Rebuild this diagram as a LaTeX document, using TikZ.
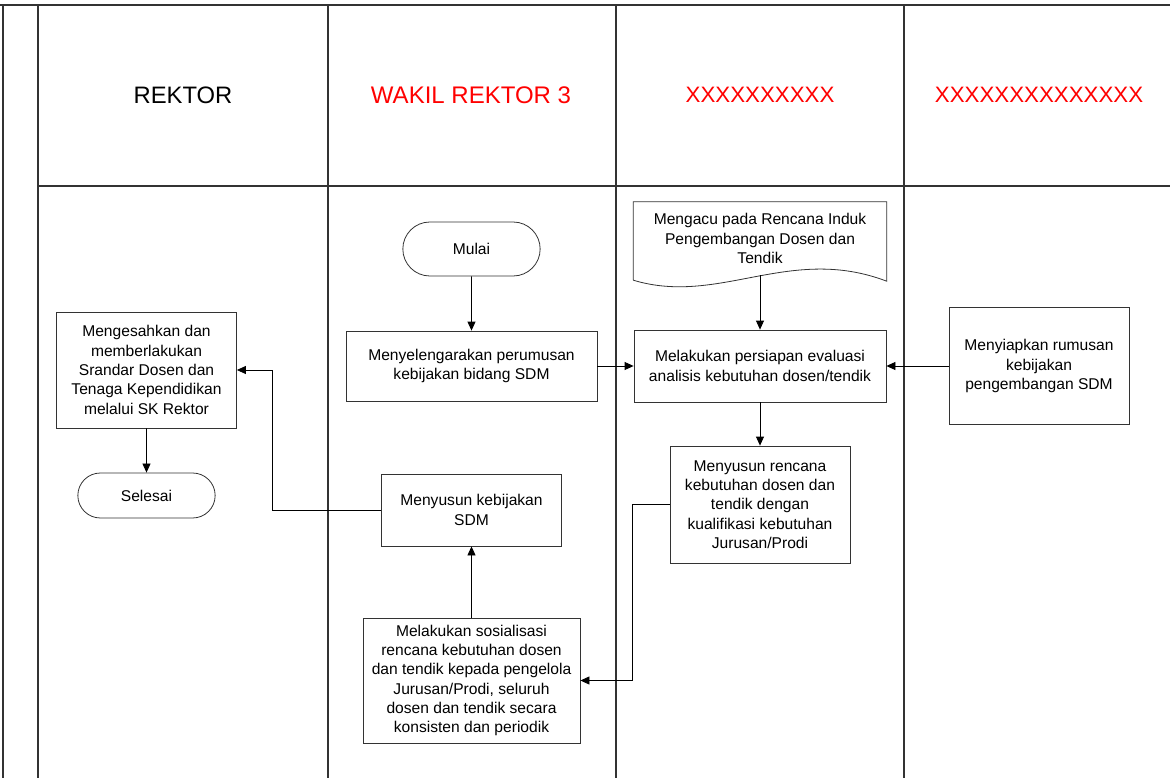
\documentclass[tikz,border=0pt]{standalone}
\usepackage{fontspec}
\setmainfont{Liberation Sans}
\usetikzlibrary{arrows.meta,shapes.misc}

\tikzstyle{proses}=[rectangle,
                        draw=black!80,
                        line width=0.8pt,
                        fill=white,
                        align=center,
                        inner sep=2pt,
                        font=\fontsize{15.6}{19.3}\selectfont]
\tikzstyle{terminal}=[rounded rectangle,
                        draw=black!80,
                        line width=0.8pt,
                        fill=white,
                        minimum width=144pt,
                        font=\fontsize{15.6}{19.3}\selectfont]
\tikzstyle{lajur}=[font=\fontsize{22.3}{27}\selectfont]
\tikzstyle{garis}=[line width=1.6pt, draw=black!80]

\begin{document}
\begin{tikzpicture}[x=1pt,y=-1pt,>={Triangle[length=9pt,width=8pt]}]
  \useasboundingbox (0,0) rectangle (1170,778);

  % swimlane frame
  \draw[garis] (0,5) -- (1170,5);
  \draw[garis] (38,186) -- (1170,186);
  \foreach \x in {3,38,328,616,904}
    \draw[garis] (\x,5) -- (\x,778);

  % lane headers
  \node (hrektor) [lajur,font=\fontsize{23.8}{27}\selectfont] at (183,95) {REKTOR};
  \node (hwarek) [lajur,text=red,font=\fontsize{24}{27}\selectfont] at (471,95) {WAKIL REKTOR 3};
  \node (hlajur3) [lajur,text=red] at (760,95) {XXXXXXXXXX};
  \node (hlajur4) [lajur,text=red] at (1039,95) {XXXXXXXXXXXXXX};

  % process steps
  \node (mulai) [terminal,minimum height=54pt] at (471.5,249) {Mulai};
  \node (selenggara) [proses,minimum width=251pt,minimum height=70pt] at (471.5,366)
        {Menyelengarakan perumusan\\kebijakan bidang SDM};
  \node (doc) [align=center,inner sep=0pt,minimum width=253pt,minimum height=73pt,
        font=\fontsize{15.6}{19.3}\selectfont] at (760,238.5)
        {Mengacu pada Rencana Induk\\Pengembangan Dosen dan\\Tendik};
  \draw[draw=black!80,line width=0.8pt] ([yshift=-5pt]doc.south west) -- (doc.north west)
        -- (doc.north east) -- ([yshift=-6pt]doc.south east)
        .. controls +(-97,-37) and +(86,26) .. ([yshift=-5pt]doc.south west);
  \node (persiapan) [proses,minimum width=252pt,minimum height=72pt] at (760,366)
        {Melakukan persiapan evaluasi\\analisis kebutuhan dosen/tendik};
  \node (siapkan) [proses,minimum width=180pt,minimum height=117pt] at (1039,366)
        {Menyiapkan rumusan\\kebijakan\\pengembangan SDM};
  \node (rencana) [proses,minimum width=180pt,minimum height=117pt] at (760,504.5)
        {Menyusun rencana\\kebutuhan dosen dan\\tendik dengan\\kualifikasi kebutuhan\\Jurusan/Prodi};
  \node (sosialisasi) [proses,minimum width=217pt,minimum height=125pt] at (471.5,680.5)
        {Melakukan sosialisasi\\rencana kebutuhan dosen\\dan tendik kepada pengelola\\Jurusan/Prodi, seluruh\\dosen dan tendik secara\\konsisten dan periodik};
  \node (kebijakan) [proses,minimum width=180pt,minimum height=72pt] at (471.5,510)
        {Menyusun kebijakan\\SDM};
  \node (sahkan) [proses,minimum width=180pt,minimum height=116pt] at (146.5,370)
        {Mengesahkan dan\\memberlakukan\\Srandar Dosen dan\\Tenaga Kependidikan\\melalui SK Rektor};
  \node (selesai) [terminal,minimum height=45pt] at (146.5,495.5) {Selesai};

  % connectors
  \path[->,line width=0.8pt]
        (mulai) edge (selenggara)
        (selenggara) edge (persiapan)
        (doc) edge (persiapan)
        (siapkan) edge (persiapan)
        (persiapan) edge (rencana)
        (sosialisasi) edge (kebijakan)
        (sahkan) edge (selesai);
  \draw[->,line width=0.8pt] (rencana.west) -- ++(-37,0) |- (sosialisasi.east);
  \draw[->,line width=0.8pt] (kebijakan.west) -- ++(-109,0) |- (sahkan.east);
\end{tikzpicture}
\end{document}
